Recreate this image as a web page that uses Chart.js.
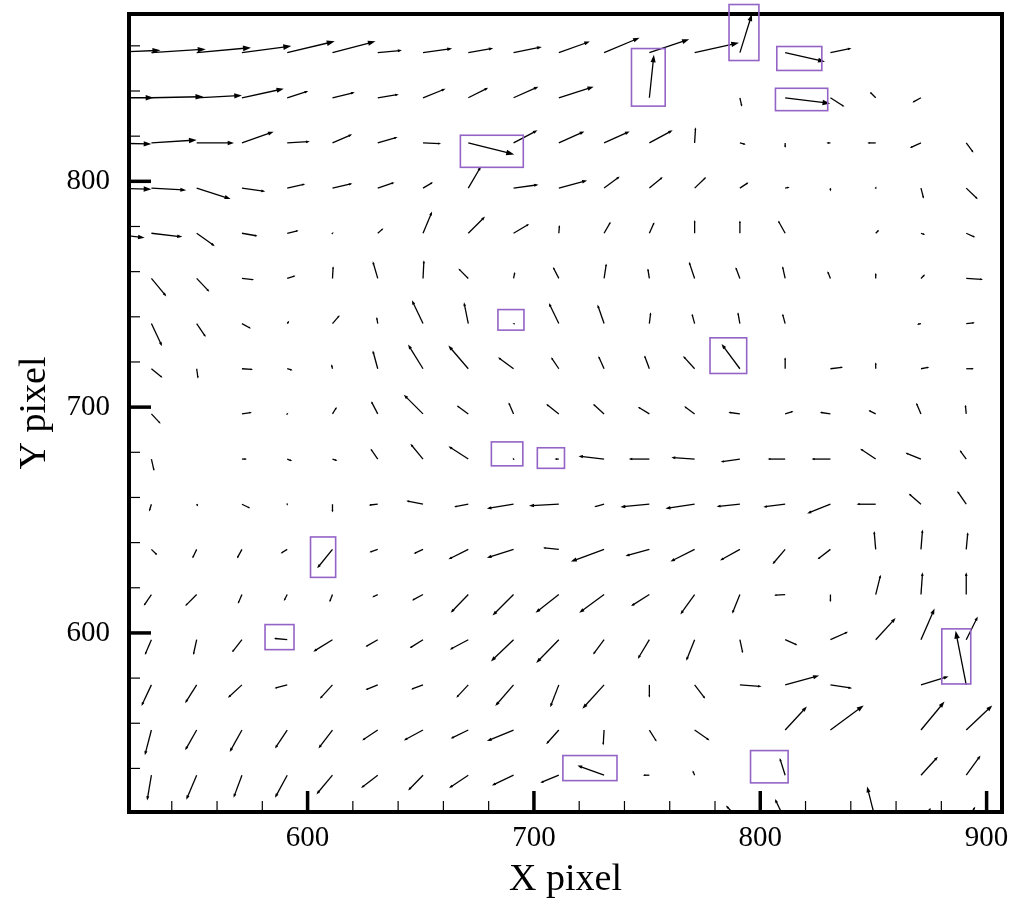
<!DOCTYPE html>
<html>
<head>
<meta charset="utf-8">
<script src="https://cdn.jsdelivr.net/npm/chart.js@4.4.0/dist/chart.umd.min.js"></script>
<style>
  html, body { margin: 0; padding: 0; background: #fff; }
  #wrap { width: 1013px; height: 903px; }
</style>
</head>
<body>
<div id="wrap"><canvas id="myChart"></canvas></div>
<script>
// grid of vector tails (pixel coordinates of the PIV image)
const xCols = [511, 531, 551, 571, 591, 611, 631, 651, 671, 691, 711, 731, 751, 771, 791, 811, 831, 851, 871, 891];
const yRows = [857, 837, 817, 797, 777, 757, 737, 717, 697, 677, 657, 637, 617, 597, 577, 557, 537, 517];

// [u, v] per column, one array per row
const row857 = [[24,1],[24,1.5],[24,2.2],[21.8,2.9],[21,5],[19,5],[10.7,1],[12.9,1.8],[11,1.9],[12.5,2.5],[13.7,4.9],[15.7,6.6],[17.6,5.9],[19.6,4.4],[5.3,17],[17.6,-4],[9.3,1.9],[0,0],[0,0],[0,0]];
const row837 = [[21,0],[23,0.5],[20,1],[18.5,4],[9.3,3],[9.9,2.4],[9.3,1.5],[10,4],[8.8,4.4],[11,4.9],[15.4,4.9],[0,0],[2,19],[0,0],[0.9,-4],[19.9,-2.5],[6.2,-4],[-2.6,2.6],[-3.8,-2.1],[0,0]];
const row817 = [[20,-0.5],[20,1.3],[16.5,0],[14,5],[10,0.6],[8.7,3.8],[8.8,2.6],[8,-0.3],[20.3,-5.1],[10.6,5.6],[11.3,5.1],[11.3,5.1],[10.3,5.6],[0.4,6.9],[2.6,-0.7],[0,-2.2],[-1.8,0],[-3.7,0],[-4.9,-2.2],[3.2,-4.3]];
const row797 = [[20,-0.5],[15.4,-0.9],[15,-4.8],[10.3,-1.5],[8,1.8],[8.8,2],[7.4,2.5],[4.4,2.6],[5.6,9.6],[11,1.5],[12.5,3.4],[6.9,5.1],[5.9,4.9],[5.1,4.9],[3.8,2.5],[2,0.4],[0,-1.5],[0.4,0.7],[1.2,-4.7],[5.1,-4.9]];
const row777 = [[17,-2],[13.7,-1.6],[8,-5.7],[6.9,-1.2],[5,1.2],[0.5,0.5],[2.5,2.2],[4,9.6],[7.4,7.4],[6.9,4.1],[0.3,3.7],[2.9,5.1],[2.2,4.9],[0,5.9],[0,5.6],[-3.1,5.6],[0,0],[1.5,1.5],[1.9,-0.7],[4,-1.8]];
const row757 = [[0,0],[6.6,-8],[5.6,-5.9],[5.4,-0.6],[3.7,1.2],[0.3,5.4],[-2.2,7.6],[0.4,8.1],[-4.4,4.4],[0.6,2.9],[-2.6,5.1],[1,6.6],[-0.7,4.4],[-2.5,7.4],[-1.9,5],[-1.2,5.4],[-1.3,3.2],[0,2.5],[1.8,1.8],[7.4,-0.5]];
const row737 = [[0,0],[4.7,-10],[4,-5.9],[4,-2.2],[0.9,1.2],[3.2,3.7],[-0.5,2.9],[-4.9,10.3],[-1.9,9.4],[-0.5,0.2],[-4.4,9.1],[-2.9,8.4],[0.6,5],[-1.2,4.4],[-0.9,5],[-1.2,4.4],[0,0],[0,0],[-1.8,-0.4],[3.8,0.4]];
const row717 = [[0,0],[4.9,-4],[0.6,-4.4],[4.9,-0.3],[2.4,-0.7],[-0.5,2],[-2.2,8.1],[-6.6,10.7],[-8.8,10.3],[-6.9,5.1],[-3.4,5.1],[-2.5,5.6],[-2.2,5.9],[-5.1,5.6],[-8.1,11],[0,5.1],[5.6,0.7],[0,2.9],[3.7,0.7],[3.4,0]];
const row697 = [[0,0],[4.1,-4.4],[0.3,0],[4.4,0.7],[0.5,0.5],[1.9,3.1],[-2.9,5.6],[-8.5,8.5],[-5.1,3.7],[-2.2,5.1],[-5.6,4.4],[-4.9,4.4],[-5.1,3.1],[-4.6,3.4],[-5.1,0.7],[3.7,1.2],[-4.7,0.7],[-3.2,1.6],[-2.1,4.9],[-0.4,4.1]];
const row677 = [[0,0],[1.2,-5.3],[0.2,0],[2.2,0],[2.2,-0.9],[2.2,-0.7],[-3.2,4.6],[-5.6,6.8],[-8.8,5.7],[-0.4,0.6],[-1.9,0],[-11.3,1.3],[-9.1,0],[-10.3,0.7],[-8.5,-1.2],[-7.8,0],[-8.4,0],[-6.9,4.6],[-6.9,2.8],[-2.9,4]];
const row657 = [[0,0],[-1,-3.2],[0.7,-1],[3.7,-1.8],[0.2,-0.7],[0,-3.7],[-4,-0.4],[-7.4,1.5],[-6.3,-1.2],[-11.8,-1.9],[-13.2,-0.7],[-4.4,-1.2],[-12.8,-1.2],[-12.9,-1.9],[-10.3,-1],[-9.7,-1.2],[-10.3,-4.1],[-8.5,0],[-5.4,4.7],[-4,5.9]];
const row637 = [[0,0],[2.6,-2.5],[-1.9,-4],[-2.2,-4],[-2.9,-1.8],[-6.8,-8.4],[-3.7,-1.3],[-4.1,-1.9],[-8.8,-4.4],[-11.8,-3.7],[-7,0.7],[-14.7,-5.4],[-10.6,-2.9],[-10.7,-5.4],[-8.8,-4.9],[-5.6,-6.6],[-5.7,-4.4],[-0.7,8.1],[0.7,8.8],[0.7,7.6]];
const row617 = [[0,0],[-3.4,-5],[-5.1,-5.1],[-1.8,-4.1],[-1.5,-2.9],[-1.3,-3.4],[-2.5,-1.2],[-4.9,-2.6],[-7.8,-8.1],[-9.3,-9.3],[-10.3,-8.1],[-11,-8.1],[-8.1,-5.1],[-6.3,-8.8],[-3.4,-8.5],[-4.9,-0.3],[0,-3.4],[2.2,8.8],[0.7,9.9],[0,9.9]];
const row597 = [[0,0],[-2.9,-6.8],[-1.5,-6.8],[-4.4,-5.6],[-5.9,0.6],[-8.5,-5.3],[-5.4,-3.1],[-5.9,-3.7],[-8.2,-4.4],[-10,-9.6],[-10,-10.3],[-4.9,-6.6],[-5.1,-8.5],[-3.7,-9.3],[1.3,-6],[5.4,-2.4],[7.8,3.5],[8.8,9.6],[6,13.8],[5.1,10.3]];
const row577 = [[0,0],[-4.4,-9.4],[-5.1,-8.1],[-6.2,-5.7],[-5.6,-1.5],[-5.6,-6.2],[-5.4,-2.2],[-5.3,-2],[-5.3,-5.7],[-8.1,-9.4],[-3.8,-9.9],[-9.6,-10.6],[0,-5.7],[4.7,-6.2],[9.6,-0.7],[15,4.1],[9.6,-1.5],[0,0],[12.2,3.7],[-4.7,24]];
const row557 = [[0,0],[-2.9,-11.2],[-5.1,-9],[-5.4,-9.7],[-5.4,-8.2],[-6.2,-8.2],[-6.9,-4.6],[-8.5,-4.6],[-7.8,-3.8],[-11.8,-4.9],[-5.6,-6.3],[-0.4,-6.8],[3.2,-5.1],[6.6,-4.6],[0,0],[9.6,10.4],[14.7,10.9],[0,0],[10.4,12.6],[11.5,10.9]];
const row537 = [[0,0],[-1.9,-11.2],[-4.6,-10.9],[-3.7,-10],[-5.4,-10],[-7.1,-8.5],[-7.4,-5.7],[-6.6,-6.8],[-8.5,-5.7],[-9.6,-4.6],[-8.2,-3.4],[-11.8,4.3],[-2.9,0],[-0.9,2.1],[0,0],[-2.4,7.6],[0,0],[0,0],[7.5,8.2],[6.3,8.7]];
const row517 = [[0,0],[0,0],[0,0],[0,0],[0,0],[0,0],[0,0],[0,0],[0,0],[0,0],[0,0],[0,0],[0,0],[0,0],[-6.2,6.6],[-4.5,9.5],[0,0],[-3.8,15],[4.4,5.5],[4,6]];
const rows = [row857, row837, row817, row797, row777, row757, row737, row717, row697,
              row677, row657, row637, row617, row597, row577, row557, row537, row517];

// highlighted (outlier) vectors: [xMin, xMax, yMin, yMax]
const boxes = [
  [743.1, 758.0, 833.3, 858.8], [786.2, 799.4, 853.5, 878.3], [807.3, 827.2, 849.1, 859.7],
  [806.7, 829.8, 831.3, 841.2], [667.5, 695.3, 806.2, 820.4], [684.1, 695.6, 734.1, 743.2],
  [777.8, 794.0, 714.9, 730.7], [681.2, 695.1, 674.0, 684.6], [701.5, 713.5, 672.9, 682.0],
  [601.3, 612.4, 624.6, 642.5], [581.2, 594.0, 592.6, 603.7], [880.2, 893.0, 577.4, 601.8],
  [712.8, 736.7, 534.6, 545.7], [795.7, 812.3, 533.6, 547.9]
];

const xTickValues = [600, 700, 800, 900];
const yTickValues = [600, 700, 800];

const points = [];
yRows.forEach((yv, r) => {
  xCols.forEach((xv, c) => {
    points.push({ x: xv, y: yv, u: rows[r][c][0], v: rows[r][c][1] });
  });
});

// draws the arrows from each tail point
const quiverPlugin = {
  id: 'quiver',
  afterDatasetsDraw(chart) {
    const { ctx, chartArea: a, scales: { x, y } } = chart;
    ctx.save();
    ctx.beginPath();
    ctx.rect(a.left, a.top, a.right - a.left, a.bottom - a.top);
    ctx.clip();
    ctx.strokeStyle = '#000';
    ctx.fillStyle = '#000';
    ctx.lineWidth = 1.3;
    chart.data.datasets[0].data.forEach(p => {
      const x0 = x.getPixelForValue(p.x), y0 = y.getPixelForValue(p.y);
      const x1 = x.getPixelForValue(p.x + p.u), y1 = y.getPixelForValue(p.y + p.v);
      const dx = x1 - x0, dy = y1 - y0, len = Math.hypot(dx, dy);
      if (len < 1) return;
      const ux = dx / len, uy = dy / len;
      const h = Math.min(Math.max(len * 0.17, 2.5), 8), w = h * 0.35;
      ctx.beginPath();
      ctx.moveTo(x0, y0);
      ctx.lineTo(x1 - ux * h * 0.5, y1 - uy * h * 0.5);
      ctx.stroke();
      ctx.beginPath();
      ctx.moveTo(x1, y1);
      ctx.lineTo(x1 - ux * h - uy * w, y1 - uy * h + ux * w);
      ctx.lineTo(x1 - ux * h + uy * w, y1 - uy * h - ux * w);
      ctx.closePath();
      ctx.fill();
    });
    ctx.restore();
  }
};

// frame, inward ticks and the purple boxes
const framePlugin = {
  id: 'frame',
  afterDraw(chart) {
    const { ctx, chartArea: a, scales: { x, y } } = chart;
    ctx.save();
    ctx.strokeStyle = '#000';
    for (let v = 540; v <= 900; v += 20) {
      const px = x.getPixelForValue(v);
      const major = v % 100 === 0;
      ctx.lineWidth = major ? 3.5 : 1.2;
      ctx.beginPath();
      ctx.moveTo(px, a.bottom);
      ctx.lineTo(px, a.bottom - (major ? 21 : 11));
      ctx.stroke();
    }
    for (let v = 540; v <= 860; v += 20) {
      const py = y.getPixelForValue(v);
      const major = v % 100 === 0;
      ctx.lineWidth = major ? 3.5 : 1.2;
      ctx.beginPath();
      ctx.moveTo(a.left, py);
      ctx.lineTo(a.left + (major ? 22 : 11), py);
      ctx.stroke();
    }
    ctx.lineWidth = 4;
    ctx.strokeRect(a.left, a.top, a.right - a.left, a.bottom - a.top);

    ctx.strokeStyle = '#9463c6';
    ctx.lineWidth = 1.6;
    boxes.forEach(b => {
      const l = x.getPixelForValue(b[0]), r = x.getPixelForValue(b[1]);
      const t = y.getPixelForValue(b[3]), btm = y.getPixelForValue(b[2]);
      ctx.strokeRect(l, t, r - l, btm - t);
    });
    ctx.restore();
  }
};

const serif = 'Liberation Serif';

new Chart(document.getElementById('myChart'), {
  type: 'scatter',
  data: {
    datasets: [{
      data: points,
      pointRadius: 0,
      pointHoverRadius: 0,
      showLine: false
    }]
  },
  options: {
    responsive: true,
    maintainAspectRatio: false,
    animation: false,
    layout: { padding: { top: 14, right: 11, left: 0, bottom: 0 } },
    plugins: {
      legend: { display: false },
      tooltip: { enabled: false }
    },
    scales: {
      x: {
        type: 'linear',
        min: 521.1,
        max: 906.8,
        grid: { display: false, drawTicks: false },
        border: { display: false },
        afterBuildTicks: s => { s.ticks = xTickValues.map(v => ({ value: v })); },
        afterFit: s => { s.height = 91; s.paddingLeft = 0; s.paddingRight = 0; },
        ticks: {
          color: '#000',
          padding: 9,
          maxRotation: 0,
          font: { family: serif, size: 29 }
        },
        title: {
          display: true,
          text: 'X pixel',
          color: '#000',
          padding: { top: 0, bottom: 0 },
          font: { family: serif, size: 38 }
        }
      },
      y: {
        type: 'linear',
        min: 520.7,
        max: 874.1,
        grid: { display: false, drawTicks: false },
        border: { display: false },
        afterBuildTicks: s => { s.ticks = yTickValues.map(v => ({ value: v })); },
        afterFit: s => { s.width = 129; s.paddingTop = 0; s.paddingBottom = 0; },
        ticks: {
          color: '#000',
          padding: 19,
          font: { family: serif, size: 29 }
        },
        title: {
          display: true,
          text: 'Y pixel',
          color: '#000',
          padding: { top: 12, bottom: 0 },
          font: { family: serif, size: 38 }
        }
      }
    }
  },
  plugins: [quiverPlugin, framePlugin]
});
</script>
</body>
</html>
